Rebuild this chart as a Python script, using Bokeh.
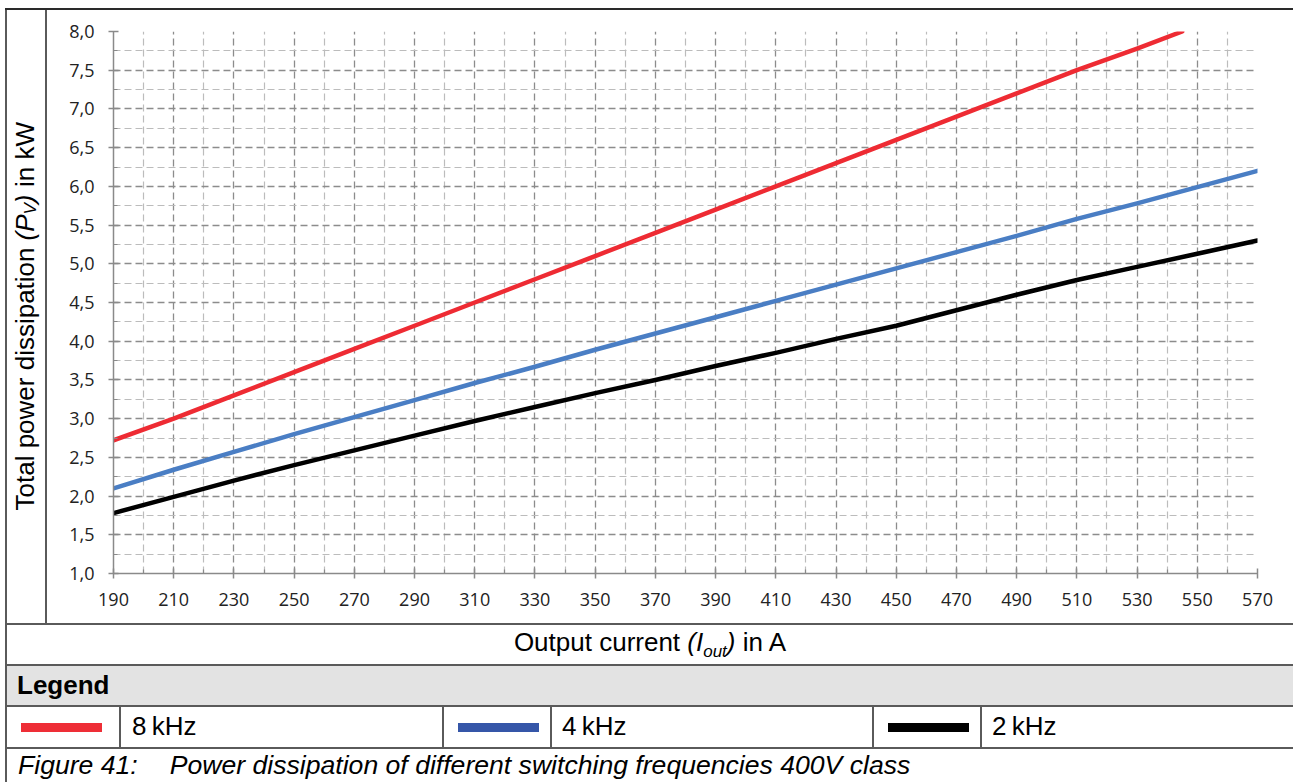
from bokeh.plotting import figure
from bokeh.models import FixedTicker, CustomJSTickFormatter, Div, Range1d
from bokeh.layouts import column, row
from bokeh.embed import file_html
from bokeh.resources import INLINE

# ---------------- data ----------------
current_8k = [190, 210, 230, 250, 270, 290, 310, 330, 350, 370, 390, 410, 430,
              450, 470, 490, 510, 530, 545]
power_8k = [2.72, 3.00, 3.30, 3.60, 3.90, 4.20, 4.50, 4.80, 5.10, 5.40, 5.70, 6.00,
            6.30, 6.60, 6.90, 7.20, 7.50, 7.78, 8.00]

current_4k = [190, 210, 230, 250, 270, 290, 310, 330, 350, 370, 390, 410, 430,
              450, 470, 490, 510, 530, 550, 570]
power_4k = [2.10, 2.34, 2.57, 2.80, 3.02, 3.24, 3.46, 3.67, 3.89, 4.10, 4.31, 4.52,
            4.73, 4.94, 5.15, 5.36, 5.58, 5.78, 5.99, 6.20]

current_2k = [190, 210, 230, 250, 270, 290, 310, 330, 350, 370, 390, 410, 430,
              450, 470, 490, 510, 530, 550, 570]
power_2k = [1.78, 1.99, 2.20, 2.40, 2.59, 2.78, 2.97, 3.15, 3.33, 3.50, 3.68, 3.85,
            4.03, 4.20, 4.40, 4.60, 4.79, 4.96, 5.13, 5.30]

x_ticks = [190, 210, 230, 250, 270, 290, 310, 330, 350, 370, 390, 410, 430, 450,
           470, 490, 510, 530, 550, 570]
x_minor = [200, 220, 240, 260, 280, 300, 320, 340, 360, 380, 400, 420, 440, 460,
           480, 500, 520, 540, 560]
y_ticks = [1.0, 1.5, 2.0, 2.5, 3.0, 3.5, 4.0, 4.5, 5.0, 5.5, 6.0, 6.5, 7.0, 7.5, 8.0]
y_minor = [1.25, 1.75, 2.25, 2.75, 3.25, 3.75, 4.25, 4.75, 5.25, 5.75, 6.25, 6.75,
           7.25, 7.75]

series_labels = ["8\u2009kHz", "4\u2009kHz", "2\u2009kHz"]
line_colors = ["#EE2B33", "#4A7EC4", "#000000"]
swatch_colors = ["#EE2E36", "#3556A8", "#000000"]

y_title = "Total power dissipation <i>(P<sub style='font-size:17px'>V</sub>)</i> in kW"
x_title = "Output current <i>(I<sub style='font-size:17px'>out</sub>)</i> in A"
legend_title = "Legend"
caption_num = "Figure 41:"
caption_text = "Power dissipation of different switching frequencies 400V class"

# ---------------- styles ----------------
LINE = "#5a5a5a"
TOPLINE = "#2a2a2a"
FONT = "'Liberation Sans', Arial, sans-serif"
TICK_FONT = "Open Sans"
TOTAL_W = 1288


def hline(color=LINE, w=TOTAL_W):
    return Div(text="", width=w, height=2, margin=0,
               styles={"background-color": color})


def vline(h):
    return Div(text="", width=2, height=h, margin=0,
               styles={"background-color": LINE})


def cell(html, w, h, bg=None, justify="flex-start", pad=0, size=26):
    inner = (f"<div style=\"width:{w}px;height:{h}px;display:flex;align-items:center;"
             f"justify-content:{justify};padding-left:{pad}px;box-sizing:border-box;"
             f"font-family:{FONT};font-size:{size}px;color:#000;white-space:nowrap;\">"
             f"<span>{html}</span></div>")
    st = {"overflow": "hidden"}
    if bg:
        st["background-color"] = bg
    return Div(text=inner, width=w, height=h, margin=0, styles=st)


# ---------------- plot ----------------
p = figure(width=1246, height=613, x_range=Range1d(190, 570), y_range=Range1d(1, 8),
           output_backend="svg", toolbar_location=None,
           min_border_left=66, min_border_right=36, min_border_top=21,
           min_border_bottom=50)
p.margin = 0
p.outline_line_color = None
p.background_fill_color = "white"
p.border_fill_color = "white"

xt = FixedTicker(ticks=x_ticks, minor_ticks=x_minor)
yt = FixedTicker(ticks=y_ticks, minor_ticks=y_minor)
p.xaxis.ticker = xt
p.yaxis.ticker = yt
p.xgrid.ticker = xt
p.ygrid.ticker = yt
p.yaxis.formatter = CustomJSTickFormatter(code="return tick.toFixed(1).replace('.', ',');")

for ax in (p.xaxis, p.yaxis):
    ax.axis_line_color = "#8a8a8a"
    ax.axis_line_width = 1.5
    ax.major_tick_line_color = "#8a8a8a"
    ax.major_tick_line_width = 1.5
    ax.minor_tick_line_color = "#8a8a8a"
    ax.minor_tick_line_width = 1.2
    ax.major_tick_in = 5
    ax.major_tick_out = 5
    ax.minor_tick_in = 4
    ax.minor_tick_out = 0
    ax.major_label_text_font = TICK_FONT
    ax.major_label_text_font_size = "18px"
    ax.major_label_text_color = "#222222"
    ax.major_label_standoff = 14

for g in (p.xgrid, p.ygrid):
    g.grid_line_color = "#8c8c8c"
    g.grid_line_width = 1.3
    g.grid_line_dash = "7 4"
    g.minor_grid_line_color = "#bcbcbc"
    g.minor_grid_line_width = 1.2
    g.minor_grid_line_dash = "7 4"

for xs, ys, c in ((current_2k, power_2k, line_colors[2]),
                  (current_4k, power_4k, line_colors[1]),
                  (current_8k, power_8k, line_colors[0])):
    p.line(xs, ys, line_color=c, line_width=4.5, line_cap="round", line_join="round")

# ---------------- table layout ----------------
ylab_inner = (f"<div style=\"width:38px;height:613px;display:flex;align-items:center;"
              f"justify-content:center;\"><span style=\"writing-mode:vertical-rl;"
              f"transform:rotate(180deg);white-space:nowrap;font-family:{FONT};"
              f"font-size:26px;color:#000;\">{y_title}</span></div>")
ylab = Div(text=ylab_inner, width=38, height=613, margin=0, styles={"overflow": "hidden"})

row_plot = row(vline(613), ylab, vline(613), p, spacing=0)

row_xtitle = row(vline(39), cell(x_title, 1286, 39, justify="center", pad=0), spacing=0)
row_legtitle = row(vline(39), cell(f"<b>{legend_title}</b>", 1286, 39, bg="#e3e3e3", pad=10),
                   spacing=0)


def swatch(color, w, pad):
    return cell(f"<div style='width:81px;height:9px;background:{color}'></div>", w, 40, pad=pad)


legend_children = [vline(40),
                   swatch(swatch_colors[0], 112, 14), vline(40),
                   cell(series_labels[0], 321, 40, pad=11), vline(40),
                   swatch(swatch_colors[1], 106, 14), vline(40),
                   cell(series_labels[1], 320, 40, pad=10), vline(40),
                   swatch(swatch_colors[2], 106, 14), vline(40),
                   cell(series_labels[2], 311, 40, pad=10)]
row_legend = row(*legend_children, spacing=0)

cap_html = (f"<i>{caption_num}</i><span style='display:inline-block;width:32px'></span>"
            f"<i>{caption_text}</i>")
row_caption = row(vline(33), cell(cap_html, 1286, 33, pad=11, size=26.6), spacing=0)

layout = column(hline(TOPLINE), row_plot, hline(), row_xtitle, hline(), row_legtitle,
                hline(), row_legend, hline(), row_caption, spacing=0)
layout.margin = (8, 0, 0, 5)

open("out.html", "w").write(file_html(layout, INLINE))
